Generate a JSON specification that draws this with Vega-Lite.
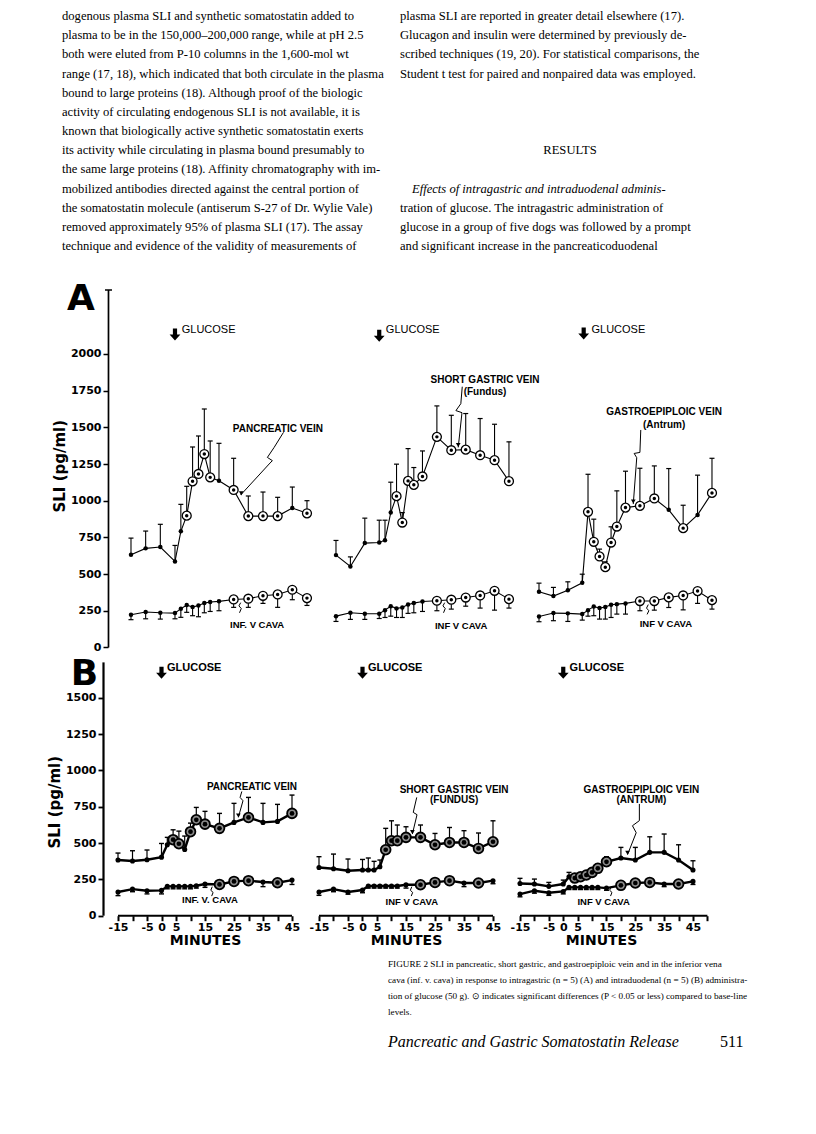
{
"$schema": "https://vega.github.io/schema/vega-lite/v6.json",
"padding": 0,
"background": "white",
"bounds": "flush",
"spacing": 15,
"config": {"view": {"stroke": null}, "text": {"color": "black"}},
"datasets": {
"A1": [
{"s":"vein","t":-15,"v":632,"e":745,"sig":0},{"s":"vein","t":-10,"v":675,"e":793,"sig":0},{"s":"vein","t":-5,"v":684,"e":839,"sig":0},{"s":"vein","t":0,"v":586,"e":695,"sig":0},{"s":"vein","t":2,"v":791,"e":975,"sig":0},{"s":"vein","t":4,"v":898,"e":1098,"sig":1},{"s":"vein","t":6,"v":1132,"e":1366,"sig":1},{"s":"vein","t":8,"v":1182,"e":1441,"sig":1},{"s":"vein","t":10,"v":1318,"e":1625,"sig":1},{"s":"vein","t":12,"v":1159,"e":1407,"sig":1},{"s":"vein","t":15,"v":1136,"e":1391,"sig":0},{"s":"vein","t":20,"v":1073,"e":1289,"sig":1},{"s":"vein","t":25,"v":895,"e":1032,"sig":1},{"s":"vein","t":30,"v":895,"e":1059,"sig":1},{"s":"vein","t":35,"v":895,"e":1023,"sig":1},{"s":"vein","t":40,"v":950,"e":1093,"sig":0},{"s":"vein","t":45,"v":914,"e":1000,"sig":1},
{"s":"ivc","t":-15,"v":223,"e":189,"sig":0},{"s":"ivc","t":-10,"v":241,"e":195,"sig":0},{"s":"ivc","t":-5,"v":236,"e":193,"sig":0},{"s":"ivc","t":0,"v":234,"e":195,"sig":0},{"s":"ivc","t":2,"v":264,"e":205,"sig":0},{"s":"ivc","t":4,"v":289,"e":239,"sig":0},{"s":"ivc","t":6,"v":275,"e":216,"sig":0},{"s":"ivc","t":8,"v":286,"e":209,"sig":0},{"s":"ivc","t":10,"v":302,"e":236,"sig":0},{"s":"ivc","t":12,"v":309,"e":245,"sig":0},{"s":"ivc","t":15,"v":314,"e":250,"sig":0},{"s":"ivc","t":20,"v":327,"e":273,"sig":1},{"s":"ivc","t":25,"v":332,"e":273,"sig":1},{"s":"ivc","t":30,"v":352,"e":300,"sig":1},{"s":"ivc","t":35,"v":361,"e":273,"sig":1},{"s":"ivc","t":40,"v":393,"e":325,"sig":1},{"s":"ivc","t":45,"v":336,"e":286,"sig":1}],
"A2": [
{"s":"vein","t":-15,"v":629,"e":729,"sig":0},{"s":"vein","t":-10,"v":552,"e":617,"sig":0},{"s":"vein","t":-5,"v":711,"e":881,"sig":0},{"s":"vein","t":0,"v":715,"e":867,"sig":0},{"s":"vein","t":2,"v":731,"e":867,"sig":0},{"s":"vein","t":4,"v":919,"e":1126,"sig":0},{"s":"vein","t":6,"v":1031,"e":1249,"sig":1},{"s":"vein","t":8,"v":851,"e":919,"sig":1},{"s":"vein","t":10,"v":1135,"e":1355,"sig":1},{"s":"vein","t":12,"v":1108,"e":1226,"sig":1},{"s":"vein","t":15,"v":1165,"e":1339,"sig":1},{"s":"vein","t":20,"v":1435,"e":1646,"sig":1},{"s":"vein","t":25,"v":1344,"e":1582,"sig":1},{"s":"vein","t":30,"v":1348,"e":1594,"sig":1},{"s":"vein","t":35,"v":1310,"e":1560,"sig":1},{"s":"vein","t":40,"v":1276,"e":1521,"sig":1},{"s":"vein","t":45,"v":1133,"e":1401,"sig":1},
{"s":"ivc","t":-15,"v":213,"e":177,"sig":0},{"s":"ivc","t":-10,"v":236,"e":191,"sig":0},{"s":"ivc","t":-5,"v":229,"e":191,"sig":0},{"s":"ivc","t":0,"v":229,"e":197,"sig":0},{"s":"ivc","t":2,"v":254,"e":204,"sig":0},{"s":"ivc","t":4,"v":281,"e":213,"sig":0},{"s":"ivc","t":6,"v":266,"e":204,"sig":0},{"s":"ivc","t":8,"v":272,"e":204,"sig":0},{"s":"ivc","t":10,"v":293,"e":232,"sig":0},{"s":"ivc","t":12,"v":302,"e":236,"sig":0},{"s":"ivc","t":15,"v":313,"e":245,"sig":0},{"s":"ivc","t":20,"v":318,"e":250,"sig":1},{"s":"ivc","t":25,"v":325,"e":261,"sig":1},{"s":"ivc","t":30,"v":340,"e":281,"sig":1},{"s":"ivc","t":35,"v":354,"e":268,"sig":1},{"s":"ivc","t":40,"v":386,"e":254,"sig":1},{"s":"ivc","t":45,"v":329,"e":268,"sig":1}],
"A3": [
{"s":"vein","t":-15,"v":379,"e":438,"sig":0},{"s":"vein","t":-10,"v":350,"e":409,"sig":0},{"s":"vein","t":-5,"v":390,"e":447,"sig":0},{"s":"vein","t":0,"v":440,"e":499,"sig":0},{"s":"vein","t":2,"v":924,"e":1180,"sig":1},{"s":"vein","t":4,"v":720,"e":874,"sig":1},{"s":"vein","t":6,"v":620,"e":670,"sig":1},{"s":"vein","t":8,"v":547,"e":583,"sig":1},{"s":"vein","t":10,"v":715,"e":822,"sig":1},{"s":"vein","t":12,"v":824,"e":1067,"sig":1},{"s":"vein","t":15,"v":953,"e":1201,"sig":1},{"s":"vein","t":20,"v":965,"e":1221,"sig":1},{"s":"vein","t":25,"v":1015,"e":1237,"sig":1},{"s":"vein","t":30,"v":938,"e":1219,"sig":0},{"s":"vein","t":35,"v":813,"e":969,"sig":1},{"s":"vein","t":40,"v":903,"e":1174,"sig":0},{"s":"vein","t":45,"v":1053,"e":1289,"sig":1},
{"s":"ivc","t":-15,"v":211,"e":175,"sig":0},{"s":"ivc","t":-10,"v":234,"e":182,"sig":0},{"s":"ivc","t":-5,"v":232,"e":177,"sig":0},{"s":"ivc","t":0,"v":227,"e":186,"sig":0},{"s":"ivc","t":2,"v":254,"e":213,"sig":0},{"s":"ivc","t":4,"v":279,"e":216,"sig":0},{"s":"ivc","t":6,"v":268,"e":193,"sig":0},{"s":"ivc","t":8,"v":275,"e":193,"sig":0},{"s":"ivc","t":10,"v":291,"e":204,"sig":0},{"s":"ivc","t":12,"v":295,"e":227,"sig":0},{"s":"ivc","t":15,"v":300,"e":227,"sig":0},{"s":"ivc","t":20,"v":316,"e":250,"sig":1},{"s":"ivc","t":25,"v":316,"e":254,"sig":1},{"s":"ivc","t":30,"v":341,"e":272,"sig":1},{"s":"ivc","t":35,"v":354,"e":256,"sig":1},{"s":"ivc","t":40,"v":384,"e":300,"sig":1},{"s":"ivc","t":45,"v":322,"e":261,"sig":1}],
"B1": [
{"s":"vein","t":-15,"v":383,"e":431,"sig":0},{"s":"vein","t":-10,"v":376,"e":447,"sig":0},{"s":"vein","t":-5,"v":385,"e":452,"sig":0},{"s":"vein","t":0,"v":403,"e":497,"sig":0},{"s":"vein","t":2,"v":488,"e":539,"sig":0},{"s":"vein","t":4,"v":523,"e":591,"sig":1},{"s":"vein","t":6,"v":495,"e":582,"sig":1},{"s":"vein","t":8,"v":456,"e":548,"sig":0},{"s":"vein","t":10,"v":578,"e":637,"sig":1},{"s":"vein","t":12,"v":660,"e":745,"sig":1},{"s":"vein","t":15,"v":630,"e":718,"sig":1},{"s":"vein","t":20,"v":601,"e":704,"sig":1},{"s":"vein","t":25,"v":642,"e":773,"sig":0},{"s":"vein","t":30,"v":676,"e":814,"sig":1},{"s":"vein","t":35,"v":642,"e":773,"sig":0},{"s":"vein","t":40,"v":649,"e":766,"sig":0},{"s":"vein","t":45,"v":704,"e":830,"sig":1},
{"s":"ivc","t":-15,"v":163,"e":138,"sig":0},{"s":"ivc","t":-10,"v":183,"e":165,"sig":0},{"s":"ivc","t":-5,"v":172,"e":150,"sig":0},{"s":"ivc","t":0,"v":174,"e":150,"sig":0},{"s":"ivc","t":2,"v":202,"e":185,"sig":0},{"s":"ivc","t":4,"v":202,"e":185,"sig":0},{"s":"ivc","t":6,"v":202,"e":185,"sig":0},{"s":"ivc","t":8,"v":202,"e":185,"sig":0},{"s":"ivc","t":10,"v":202,"e":185,"sig":0},{"s":"ivc","t":12,"v":206,"e":190,"sig":0},{"s":"ivc","t":15,"v":218,"e":195,"sig":0},{"s":"ivc","t":20,"v":215,"e":195,"sig":1},{"s":"ivc","t":25,"v":236,"e":215,"sig":1},{"s":"ivc","t":30,"v":241,"e":220,"sig":1},{"s":"ivc","t":35,"v":232,"e":200,"sig":0},{"s":"ivc","t":40,"v":227,"e":205,"sig":1},{"s":"ivc","t":45,"v":245,"e":215,"sig":0}],
"B2": [
{"s":"vein","t":-15,"v":332,"e":406,"sig":0},{"s":"vein","t":-10,"v":323,"e":424,"sig":0},{"s":"vein","t":-5,"v":309,"e":390,"sig":0},{"s":"vein","t":0,"v":314,"e":387,"sig":0},{"s":"vein","t":2,"v":314,"e":397,"sig":0},{"s":"vein","t":4,"v":314,"e":374,"sig":0},{"s":"vein","t":6,"v":337,"e":383,"sig":0},{"s":"vein","t":8,"v":454,"e":601,"sig":1},{"s":"vein","t":10,"v":516,"e":653,"sig":1},{"s":"vein","t":12,"v":516,"e":624,"sig":1},{"s":"vein","t":15,"v":539,"e":612,"sig":1},{"s":"vein","t":20,"v":539,"e":624,"sig":1},{"s":"vein","t":25,"v":488,"e":566,"sig":1},{"s":"vein","t":30,"v":504,"e":607,"sig":1},{"s":"vein","t":35,"v":504,"e":585,"sig":1},{"s":"vein","t":40,"v":463,"e":569,"sig":1},{"s":"vein","t":45,"v":509,"e":653,"sig":1},
{"s":"ivc","t":-15,"v":163,"e":140,"sig":0},{"s":"ivc","t":-10,"v":183,"e":165,"sig":0},{"s":"ivc","t":-5,"v":163,"e":148,"sig":0},{"s":"ivc","t":0,"v":177,"e":158,"sig":0},{"s":"ivc","t":2,"v":204,"e":190,"sig":0},{"s":"ivc","t":4,"v":204,"e":190,"sig":0},{"s":"ivc","t":6,"v":204,"e":190,"sig":0},{"s":"ivc","t":8,"v":204,"e":190,"sig":0},{"s":"ivc","t":10,"v":204,"e":190,"sig":0},{"s":"ivc","t":12,"v":204,"e":190,"sig":0},{"s":"ivc","t":15,"v":213,"e":190,"sig":0},{"s":"ivc","t":20,"v":213,"e":195,"sig":1},{"s":"ivc","t":25,"v":229,"e":215,"sig":1},{"s":"ivc","t":30,"v":241,"e":225,"sig":1},{"s":"ivc","t":35,"v":225,"e":200,"sig":0},{"s":"ivc","t":40,"v":225,"e":210,"sig":1},{"s":"ivc","t":45,"v":241,"e":220,"sig":0}],
"B3": [
{"s":"vein","t":-15,"v":222,"e":257,"sig":0},{"s":"vein","t":-10,"v":218,"e":252,"sig":0},{"s":"vein","t":-5,"v":202,"e":229,"sig":0},{"s":"vein","t":0,"v":218,"e":245,"sig":0},{"s":"vein","t":2,"v":268,"e":298,"sig":0},{"s":"vein","t":4,"v":259,"e":287,"sig":1},{"s":"vein","t":6,"v":268,"e":295,"sig":1},{"s":"vein","t":8,"v":280,"e":305,"sig":1},{"s":"vein","t":10,"v":298,"e":325,"sig":1},{"s":"vein","t":12,"v":326,"e":355,"sig":1},{"s":"vein","t":15,"v":371,"e":406,"sig":1},{"s":"vein","t":20,"v":397,"e":470,"sig":0},{"s":"vein","t":25,"v":383,"e":470,"sig":0},{"s":"vein","t":30,"v":436,"e":543,"sig":0},{"s":"vein","t":35,"v":436,"e":562,"sig":0},{"s":"vein","t":40,"v":383,"e":488,"sig":0},{"s":"vein","t":45,"v":314,"e":378,"sig":0},
{"s":"ivc","t":-15,"v":149,"e":130,"sig":0},{"s":"ivc","t":-10,"v":172,"e":155,"sig":0},{"s":"ivc","t":-5,"v":158,"e":140,"sig":0},{"s":"ivc","t":0,"v":167,"e":150,"sig":0},{"s":"ivc","t":2,"v":195,"e":180,"sig":0},{"s":"ivc","t":4,"v":195,"e":180,"sig":0},{"s":"ivc","t":6,"v":195,"e":180,"sig":0},{"s":"ivc","t":8,"v":195,"e":180,"sig":0},{"s":"ivc","t":10,"v":195,"e":180,"sig":0},{"s":"ivc","t":12,"v":195,"e":180,"sig":0},{"s":"ivc","t":15,"v":190,"e":175,"sig":0},{"s":"ivc","t":20,"v":209,"e":195,"sig":1},{"s":"ivc","t":25,"v":225,"e":210,"sig":1},{"s":"ivc","t":30,"v":229,"e":215,"sig":1},{"s":"ivc","t":35,"v":218,"e":200,"sig":0},{"s":"ivc","t":40,"v":218,"e":205,"sig":1},{"s":"ivc","t":45,"v":236,"e":215,"sig":0}],
"A1n": [
{"kind":"letter","txt":"A","t":-32.1,"v":2372},{"kind":"arrow","t":0,"v":2132},{"kind":"glucose","txt":"GLUCOSE","t":2.3,"v":2166},{"kind":"vein","txt":"PANCREATIC VEIN","t":35.1,"v":1490},{"kind":"ivc","txt":"INF. V CAVA","t":28,"v":155},
{"kind":"yaxis","t":-22.67,"v":0,"v2":2436},{"kind":"cap","t":-22.67,"v":2436},{"kind":"head","t":22.6,"v":1050},
{"kind":"leader","grp":"v","o":1,"t":37,"v":1466},{"kind":"leader","grp":"v","o":2,"t":33.8,"v":1363},{"kind":"leader","grp":"v","o":3,"t":31.5,"v":1295},{"kind":"leader","grp":"v","o":4,"t":33.2,"v":1273},{"kind":"leader","grp":"v","o":5,"t":32.1,"v":1250},{"kind":"leader","grp":"v","o":6,"t":22.4,"v":1039},
{"kind":"leader","grp":"i","o":1,"t":22.0,"v":236},{"kind":"leader","grp":"i","o":2,"t":22.6,"v":265},{"kind":"leader","grp":"i","o":3,"t":21.8,"v":283},{"kind":"leader","grp":"i","o":4,"t":22.4,"v":305}],
"A2n": [
{"kind":"arrow","t":0,"v":2125},{"kind":"glucose","txt":"GLUCOSE","t":2.3,"v":2166},{"kind":"vein","txt":"SHORT GASTRIC VEIN","t":36.7,"v":1824},{"kind":"vein","txt":"(Fundus)","t":36.7,"v":1742},{"kind":"ivc","txt":"INF V CAVA","t":28.4,"v":148},{"kind":"head","t":27.4,"v":1380},
{"kind":"leader","grp":"v","o":1,"t":28.8,"v":1777},{"kind":"leader","grp":"v","o":2,"t":28.3,"v":1661},{"kind":"leader","grp":"v","o":3,"t":26.6,"v":1614},{"kind":"leader","grp":"v","o":4,"t":28.7,"v":1600},{"kind":"leader","grp":"v","o":5,"t":27.4,"v":1363},
{"kind":"leader","grp":"i","o":1,"t":22.3,"v":236},{"kind":"leader","grp":"i","o":2,"t":22.9,"v":265},{"kind":"leader","grp":"i","o":3,"t":22.1,"v":283},{"kind":"leader","grp":"i","o":4,"t":22.7,"v":305}],
"A3n": [
{"kind":"arrow","t":0.5,"v":2139},{"kind":"glucose","txt":"GLUCOSE","t":3.2,"v":2166},{"kind":"vein","txt":"GASTROEPIPLOIC VEIN","t":28.4,"v":1606},{"kind":"vein","txt":"(Antrum)","t":28.4,"v":1517},{"kind":"ivc","txt":"INF V CAVA","t":29,"v":161},{"kind":"head","t":17.7,"v":995},
{"kind":"leader","grp":"v","o":1,"t":20.3,"v":1482},{"kind":"leader","grp":"v","o":2,"t":20,"v":1329},{"kind":"leader","grp":"v","o":3,"t":18,"v":1322},{"kind":"leader","grp":"v","o":4,"t":18.9,"v":1293},{"kind":"leader","grp":"v","o":5,"t":17.7,"v":977},
{"kind":"leader","grp":"i","o":1,"t":22.5,"v":225},{"kind":"leader","grp":"i","o":2,"t":23.1,"v":250},{"kind":"leader","grp":"i","o":3,"t":22.3,"v":268},{"kind":"leader","grp":"i","o":4,"t":22.9,"v":292}],
"B1n": [
{"kind":"letter","txt":"B","t":-26.6,"v":1661},{"kind":"arrow","t":0,"v":1672},{"kind":"glucose","txt":"GLUCOSE","t":1.9,"v":1707},{"kind":"vein","txt":"PANCREATIC VEIN","t":31.2,"v":887},{"kind":"ivc","txt":"INF. V. CAVA","t":16.7,"v":110},{"kind":"head","t":26.5,"v":690},
{"kind":"yaxis","t":-20,"v":0,"v2":1743},{"kind":"xaxis","t":-15,"t2":45,"v":0},
{"kind":"leader","grp":"v","o":1,"t":27.7,"v":855},{"kind":"leader","grp":"v","o":2,"t":27.1,"v":814},{"kind":"leader","grp":"v","o":3,"t":28.1,"v":791},{"kind":"leader","grp":"v","o":4,"t":26.5,"v":677},
{"kind":"leader","grp":"i","o":1,"t":17.3,"v":135},{"kind":"leader","grp":"i","o":2,"t":17.8,"v":160},{"kind":"leader","grp":"i","o":3,"t":17.0,"v":175},{"kind":"leader","grp":"i","o":4,"t":17.5,"v":200}],
"B2n": [
{"kind":"arrow","t":0,"v":1672},{"kind":"glucose","txt":"GLUCOSE","t":1.9,"v":1707},{"kind":"vein","txt":"SHORT GASTRIC VEIN","t":31.6,"v":867},{"kind":"vein","txt":"(FUNDUS)","t":31.6,"v":798},{"kind":"ivc","txt":"INF V CAVA","t":17,"v":96},{"kind":"head","t":17.2,"v":575},
{"kind":"xaxis","t":-15,"t2":45,"v":0},
{"kind":"leader","grp":"v","o":1,"t":18.7,"v":814},{"kind":"leader","grp":"v","o":2,"t":17.5,"v":711},{"kind":"leader","grp":"v","o":3,"t":18.8,"v":695},{"kind":"leader","grp":"v","o":4,"t":17.2,"v":562},
{"kind":"leader","grp":"i","o":1,"t":16.8,"v":135},{"kind":"leader","grp":"i","o":2,"t":17.3,"v":160},{"kind":"leader","grp":"i","o":3,"t":16.5,"v":175},{"kind":"leader","grp":"i","o":4,"t":17.0,"v":200}],
"B3n": [
{"kind":"arrow","t":0,"v":1672},{"kind":"glucose","txt":"GLUCOSE","t":2.2,"v":1707},{"kind":"vein","txt":"GASTROEPIPLOIC VEIN","t":27.1,"v":867},{"kind":"vein","txt":"(ANTRUM)","t":27.1,"v":798},{"kind":"ivc","txt":"INF V CAVA","t":14,"v":96},{"kind":"head","t":22.3,"v":433},
{"kind":"xaxis","t":-15,"t2":50,"v":0},
{"kind":"leader","grp":"v","o":1,"t":26.4,"v":769},{"kind":"leader","grp":"v","o":2,"t":26.4,"v":654},{"kind":"leader","grp":"v","o":3,"t":24,"v":619},{"kind":"leader","grp":"v","o":4,"t":25.3,"v":571},{"kind":"leader","grp":"v","o":5,"t":22.3,"v":420},
{"kind":"leader","grp":"i","o":1,"t":16.4,"v":135},{"kind":"leader","grp":"i","o":2,"t":16.9,"v":160},{"kind":"leader","grp":"i","o":3,"t":16.1,"v":175},{"kind":"leader","grp":"i","o":4,"t":16.6,"v":200}]
},
"vconcat": [
{
"width": 816, "height": 274.3,
"data": {"values": [
{"col":"L","line":0,"role":"body","txt":"dogenous plasma SLI and synthetic somatostatin added to"},
{"col":"L","line":1,"role":"body","txt":"plasma to be in the 150,000–200,000 range, while at pH 2.5"},
{"col":"L","line":2,"role":"body","txt":"both were eluted from P-10 columns in the 1,600-mol wt"},
{"col":"L","line":3,"role":"body","txt":"range (17, 18), which indicated that both circulate in the plasma"},
{"col":"L","line":4,"role":"body","txt":"bound to large proteins (18). Although proof of the biologic"},
{"col":"L","line":5,"role":"body","txt":"activity of circulating endogenous SLI is not available, it is"},
{"col":"L","line":6,"role":"body","txt":"known that biologically active synthetic somatostatin exerts"},
{"col":"L","line":7,"role":"body","txt":"its activity while circulating in plasma bound presumably to"},
{"col":"L","line":8,"role":"body","txt":"the same large proteins (18). Affinity chromatography with im-"},
{"col":"L","line":9,"role":"body","txt":"mobilized antibodies directed against the central portion of"},
{"col":"L","line":10,"role":"body","txt":"the somatostatin molecule (antiserum S-27 of Dr. Wylie Vale)"},
{"col":"L","line":11,"role":"body","txt":"removed approximately 95% of plasma SLI (17). The assay"},
{"col":"L","line":12,"role":"body","txt":"technique and evidence of the validity of measurements of"},
{"col":"R","line":0,"role":"body","txt":"plasma SLI are reported in greater detail elsewhere (17)."},
{"col":"R","line":1,"role":"body","txt":"Glucagon and insulin were determined by previously de-"},
{"col":"R","line":2,"role":"body","txt":"scribed techniques (19, 20). For statistical comparisons, the"},
{"col":"R","line":3,"role":"body","txt":"Student t test for paired and nonpaired data was employed."},
{"col":"R","line":7,"role":"heading","txt":"RESULTS"},
{"col":"R","line":9,"role":"runin","txt":"Effects of intragastric and intraduodenal adminis-"},
{"col":"R","line":10,"role":"body","txt":"tration of glucose. The intragastric administration of"},
{"col":"R","line":11,"role":"body","txt":"glucose in a group of five dogs was followed by a prompt"},
{"col":"R","line":12,"role":"body","txt":"and significant increase in the pancreaticoduodenal"}
]},
"encoding": {
"x": {"field":"col","type":"nominal","scale":{"type":"point","domain":["L","R"],"range":[62,400],"padding":0},"axis":null},
"y": {"field":"line","type":"quantitative","scale":{"domain":[-0.835,13.476],"reverse":true,"nice":false,"zero":false},"axis":null},
"text": {"field":"txt"}
},
"layer": [
{"transform":[{"filter":"datum.role == 'body'"}],"mark":{"type":"text","align":"left","baseline":"middle","font":"Liberation Serif","fontSize":12.6,"color":"black"}},
{"transform":[{"filter":"datum.role == 'heading'"}],"mark":{"type":"text","align":"center","baseline":"middle","dx":170,"font":"Liberation Serif","fontSize":12.6,"color":"black"}},
{"transform":[{"filter":"datum.role == 'runin'"}],"mark":{"type":"text","align":"left","baseline":"middle","dx":12,"font":"Liberation Serif","fontStyle":"italic","fontSize":12.6,"color":"black"}}
]
},
{
"width": 816, "height": 625.7,
"resolve": {"scale": {"x": "independent", "y": "independent"}},
"layer": [
{
"data":{"name":"A1"},
"encoding":{
"x":{"field":"t","type":"quantitative","scale":{"domain":[-59.66,218.55],"nice":false,"zero":false},"axis":null},
"y":{"field":"v","type":"quantitative","scale":{"domain":[-1828.6,2436],"nice":false,"zero":false},"axis":{"orient":"left","offset":-108,"values":[0,250,500,750,1000,1250,1500,1750,2000],"format":"d","domain":false,"title":"SLI (pg/ml)","titleY":175.7,"titleFont":"DejaVu Sans","titleFontWeight":"bold","titleFontSize":15,"titlePadding":3,"titleColor":"black","labelFont":"DejaVu Sans","labelFontWeight":"bold","labelFontSize":11,"labelColor":"black","labelPadding":2,"tickSize":5,"tickWidth":1.5,"tickColor":"black","grid":false}}
},
"layer":[
{"mark":{"type":"rule","color":"black","strokeWidth":1.1},"encoding":{"y2":{"field":"e"}}},
{"mark":{"type":"tick","orient":"horizontal","size":5,"thickness":1.2,"color":"black","opacity":1},"encoding":{"y":{"field":"e","type":"quantitative"}}},
{"mark":{"type":"line","color":"black","strokeWidth":1.1},"encoding":{"detail":{"field":"s"}}},
{"transform":[{"filter":"datum.sig == 1"}],"mark":{"type":"point","shape":"circle","filled":true,"fill":"white","stroke":"black","strokeWidth":1.3,"size":80,"opacity":1}},
{"mark":{"type":"point","shape":"circle","filled":true,"color":"black","opacity":1},"encoding":{"size":{"condition":{"test":"datum.sig == 1","value":12},"value":20}}},
{"data":{"name":"A1n"},"transform":[{"filter":"datum.kind == 'leader'"}],"mark":{"type":"line","color":"black","strokeWidth":1},"encoding":{"order":{"field":"o"},"detail":{"field":"grp"}}},
{"data":{"name":"A1n"},"transform":[{"filter":"datum.kind == 'head'"}],"mark":{"type":"point","shape":"triangle-down","filled":true,"color":"black","size":22,"opacity":1}},
{"data":{"name":"A1n"},"transform":[{"filter":"datum.kind == 'yaxis'"}],"mark":{"type":"rule","color":"black","strokeWidth":1.7},"encoding":{"y2":{"field":"v2"}}},
{"data":{"name":"A1n"},"transform":[{"filter":"datum.kind == 'cap'"}],"mark":{"type":"tick","orient":"horizontal","size":7,"thickness":1.5,"color":"black","opacity":1}},
{"data":{"name":"A1n"},"transform":[{"filter":"datum.kind == 'arrow'"}],"mark":{"type":"point","shape":"M-0.35,-1L0.35,-1L0.35,0L0.9,0L0,1L-0.9,0L-0.35,0Z","filled":true,"color":"black","size":144,"opacity":1}},
{"data":{"name":"A1n"},"transform":[{"filter":"datum.kind == 'letter'"}],"mark":{"type":"text","align":"center","baseline":"middle","font":"DejaVu Sans","fontWeight":"bold","fontSize":36},"encoding":{"text":{"field":"txt"}}},
{"data":{"name":"A1n"},"transform":[{"filter":"datum.kind == 'glucose'"}],"mark":{"type":"text","align":"left","baseline":"middle","font":"Liberation Sans","fontSize":11},"encoding":{"text":{"field":"txt"}}},
{"data":{"name":"A1n"},"transform":[{"filter":"datum.kind == 'vein'"}],"mark":{"type":"text","align":"center","baseline":"middle","font":"Liberation Sans Narrow, Liberation Sans","fontWeight":"bold","fontSize":10},"encoding":{"text":{"field":"txt"}}},
{"data":{"name":"A1n"},"transform":[{"filter":"datum.kind == 'ivc'"}],"mark":{"type":"text","align":"center","baseline":"middle","font":"Liberation Sans Narrow, Liberation Sans","fontWeight":"bold","fontSize":9.5},"encoding":{"text":{"field":"txt"}}}
]
},
{
"data":{"name":"A2"},
"encoding":{
"x":{"field":"t","type":"quantitative","scale":{"domain":[-131.54,151.5],"nice":false,"zero":false},"axis":null},
"y":{"field":"v","type":"quantitative","scale":{"domain":[-1828.6,2436],"nice":false,"zero":false},"axis":null}
},
"layer":[
{"mark":{"type":"rule","color":"black","strokeWidth":1.1},"encoding":{"y2":{"field":"e"}}},
{"mark":{"type":"tick","orient":"horizontal","size":5,"thickness":1.2,"color":"black","opacity":1},"encoding":{"y":{"field":"e","type":"quantitative","axis":null}}},
{"mark":{"type":"line","color":"black","strokeWidth":1.1},"encoding":{"detail":{"field":"s"}}},
{"transform":[{"filter":"datum.sig == 1"}],"mark":{"type":"point","shape":"circle","filled":true,"fill":"white","stroke":"black","strokeWidth":1.3,"size":80,"opacity":1}},
{"mark":{"type":"point","shape":"circle","filled":true,"color":"black","opacity":1},"encoding":{"size":{"condition":{"test":"datum.sig == 1","value":12},"value":20}}},
{"data":{"name":"A2n"},"transform":[{"filter":"datum.kind == 'leader'"}],"mark":{"type":"line","color":"black","strokeWidth":1},"encoding":{"order":{"field":"o"},"detail":{"field":"grp"}}},
{"data":{"name":"A2n"},"transform":[{"filter":"datum.kind == 'head'"}],"mark":{"type":"point","shape":"triangle-down","filled":true,"color":"black","size":22,"opacity":1}},
{"data":{"name":"A2n"},"transform":[{"filter":"datum.kind == 'arrow'"}],"mark":{"type":"point","shape":"M-0.35,-1L0.35,-1L0.35,0L0.9,0L0,1L-0.9,0L-0.35,0Z","filled":true,"color":"black","size":144,"opacity":1}},
{"data":{"name":"A2n"},"transform":[{"filter":"datum.kind == 'glucose'"}],"mark":{"type":"text","align":"left","baseline":"middle","font":"Liberation Sans","fontSize":11},"encoding":{"text":{"field":"txt"}}},
{"data":{"name":"A2n"},"transform":[{"filter":"datum.kind == 'vein'"}],"mark":{"type":"text","align":"center","baseline":"middle","font":"Liberation Sans Narrow, Liberation Sans","fontWeight":"bold","fontSize":10},"encoding":{"text":{"field":"txt"}}},
{"data":{"name":"A2n"},"transform":[{"filter":"datum.kind == 'ivc'"}],"mark":{"type":"text","align":"center","baseline":"middle","font":"Liberation Sans Narrow, Liberation Sans","fontWeight":"bold","fontSize":9.5},"encoding":{"text":{"field":"txt"}}}
]
},
{
"data":{"name":"A3"},
"encoding":{
"x":{"field":"t","type":"quantitative","scale":{"domain":[-201.96,81.08],"nice":false,"zero":false},"axis":null},
"y":{"field":"v","type":"quantitative","scale":{"domain":[-1828.6,2436],"nice":false,"zero":false},"axis":null}
},
"layer":[
{"mark":{"type":"rule","color":"black","strokeWidth":1.1},"encoding":{"y2":{"field":"e"}}},
{"mark":{"type":"tick","orient":"horizontal","size":5,"thickness":1.2,"color":"black","opacity":1},"encoding":{"y":{"field":"e","type":"quantitative","axis":null}}},
{"mark":{"type":"line","color":"black","strokeWidth":1.1},"encoding":{"detail":{"field":"s"}}},
{"transform":[{"filter":"datum.sig == 1"}],"mark":{"type":"point","shape":"circle","filled":true,"fill":"white","stroke":"black","strokeWidth":1.3,"size":80,"opacity":1}},
{"mark":{"type":"point","shape":"circle","filled":true,"color":"black","opacity":1},"encoding":{"size":{"condition":{"test":"datum.sig == 1","value":12},"value":20}}},
{"data":{"name":"A3n"},"transform":[{"filter":"datum.kind == 'leader'"}],"mark":{"type":"line","color":"black","strokeWidth":1},"encoding":{"order":{"field":"o"},"detail":{"field":"grp"}}},
{"data":{"name":"A3n"},"transform":[{"filter":"datum.kind == 'head'"}],"mark":{"type":"point","shape":"triangle-down","filled":true,"color":"black","size":22,"opacity":1}},
{"data":{"name":"A3n"},"transform":[{"filter":"datum.kind == 'arrow'"}],"mark":{"type":"point","shape":"M-0.35,-1L0.35,-1L0.35,0L0.9,0L0,1L-0.9,0L-0.35,0Z","filled":true,"color":"black","size":144,"opacity":1}},
{"data":{"name":"A3n"},"transform":[{"filter":"datum.kind == 'glucose'"}],"mark":{"type":"text","align":"left","baseline":"middle","font":"Liberation Sans","fontSize":11},"encoding":{"text":{"field":"txt"}}},
{"data":{"name":"A3n"},"transform":[{"filter":"datum.kind == 'vein'"}],"mark":{"type":"text","align":"center","baseline":"middle","font":"Liberation Sans Narrow, Liberation Sans","fontWeight":"bold","fontSize":10},"encoding":{"text":{"field":"txt"}}},
{"data":{"name":"A3n"},"transform":[{"filter":"datum.kind == 'ivc'"}],"mark":{"type":"text","align":"center","baseline":"middle","font":"Liberation Sans Narrow, Liberation Sans","fontWeight":"bold","fontSize":9.5},"encoding":{"text":{"field":"txt"}}}
]
},
{
"data":{"name":"B1"},
"encoding":{
"x":{"field":"t","type":"quantitative","scale":{"domain":[-55.69,225.69],"nice":false,"zero":false},"axis":{"orient":"bottom","values":[-15,-10,-5,0,5,10,15,20,25,30,35,40,45],"labelExpr":"(datum.value==-10||datum.value==10||datum.value==20||datum.value==30||datum.value==40) ? '' : toString(datum.value)","domain":false,"title":"MINUTES","titleX":205,"titleFont":"DejaVu Sans","titleFontWeight":"bold","titleFontSize":14,"titlePadding":1,"titleColor":"black","labelFont":"DejaVu Sans","labelFontWeight":"bold","labelFontSize":11,"labelColor":"black","labelPadding":1,"labelFlush":false,"labelOverlap":false,"tickSize":5,"tickWidth":2,"tickColor":"black","grid":false}},
"y":{"field":"v","type":"quantitative","scale":{"domain":[0,4305.4],"nice":false,"zero":false},"axis":{"orient":"left","offset":-103,"values":[0,250,500,750,1000,1250,1500],"format":"d","domain":false,"title":"SLI (pg/ml)","titleY":511.7,"titleFont":"DejaVu Sans","titleFontWeight":"bold","titleFontSize":15,"titlePadding":3,"titleColor":"black","labelFont":"DejaVu Sans","labelFontWeight":"bold","labelFontSize":11,"labelColor":"black","labelPadding":2,"tickSize":5,"tickWidth":1.8,"tickColor":"black","grid":false}}
},
"layer":[
{"mark":{"type":"rule","color":"black","strokeWidth":1.2},"encoding":{"y2":{"field":"e"}}},
{"mark":{"type":"tick","orient":"horizontal","size":5,"thickness":1.4,"color":"black","opacity":1},"encoding":{"y":{"field":"e","type":"quantitative"}}},
{"mark":{"type":"line","color":"black","strokeWidth":2.4},"encoding":{"detail":{"field":"s"}}},
{"transform":[{"filter":"datum.sig == 1"}],"mark":{"type":"point","shape":"circle","filled":true,"fill":"#8c8c8c","stroke":"black","strokeWidth":1.8,"size":95,"opacity":1}},
{"mark":{"type":"point","shape":"circle","filled":true,"color":"black","opacity":1},"encoding":{"size":{"condition":{"test":"datum.sig == 1","value":22},"value":26}}},
{"data":{"name":"B1n"},"transform":[{"filter":"datum.kind == 'leader'"}],"mark":{"type":"line","color":"black","strokeWidth":1},"encoding":{"order":{"field":"o"},"detail":{"field":"grp"}}},
{"data":{"name":"B1n"},"transform":[{"filter":"datum.kind == 'head'"}],"mark":{"type":"point","shape":"triangle-down","filled":true,"color":"black","size":22,"opacity":1}},
{"data":{"name":"B1n"},"transform":[{"filter":"datum.kind == 'yaxis'"}],"mark":{"type":"rule","color":"black","strokeWidth":2.2},"encoding":{"y2":{"field":"v2"}}},
{"data":{"name":"B1n"},"transform":[{"filter":"datum.kind == 'xaxis'"}],"mark":{"type":"rule","color":"black","strokeWidth":2},"encoding":{"x2":{"field":"t2"}}},
{"data":{"name":"B1n"},"transform":[{"filter":"datum.kind == 'arrow'"}],"mark":{"type":"point","shape":"M-0.35,-1L0.35,-1L0.35,0L0.9,0L0,1L-0.9,0L-0.35,0Z","filled":true,"color":"black","size":144,"opacity":1}},
{"data":{"name":"B1n"},"transform":[{"filter":"datum.kind == 'letter'"}],"mark":{"type":"text","align":"center","baseline":"middle","font":"DejaVu Sans","fontWeight":"bold","fontSize":36},"encoding":{"text":{"field":"txt"}}},
{"data":{"name":"B1n"},"transform":[{"filter":"datum.kind == 'glucose'"}],"mark":{"type":"text","align":"left","baseline":"middle","font":"Liberation Sans","fontWeight":"bold","fontSize":11},"encoding":{"text":{"field":"txt"}}},
{"data":{"name":"B1n"},"transform":[{"filter":"datum.kind == 'vein'"}],"mark":{"type":"text","align":"center","baseline":"middle","font":"Liberation Sans Narrow, Liberation Sans","fontWeight":"bold","fontSize":10},"encoding":{"text":{"field":"txt"}}},
{"data":{"name":"B1n"},"transform":[{"filter":"datum.kind == 'ivc'"}],"mark":{"type":"text","align":"center","baseline":"middle","font":"Liberation Sans Narrow, Liberation Sans","fontWeight":"bold","fontSize":9.5},"encoding":{"text":{"field":"txt"}}}
]
},
{
"data":{"name":"B2"},
"encoding":{
"x":{"field":"t","type":"quantitative","scale":{"domain":[-125,156.38],"nice":false,"zero":false},"axis":{"orient":"bottom","values":[-15,-10,-5,0,5,10,15,20,25,30,35,40,45],"labelExpr":"(datum.value==-10||datum.value==10||datum.value==20||datum.value==30||datum.value==40) ? '' : toString(datum.value)","domain":false,"title":"MINUTES","titleX":406,"titleFont":"DejaVu Sans","titleFontWeight":"bold","titleFontSize":14,"titlePadding":1,"titleColor":"black","labelFont":"DejaVu Sans","labelFontWeight":"bold","labelFontSize":11,"labelColor":"black","labelPadding":1,"labelFlush":false,"labelOverlap":false,"tickSize":5,"tickWidth":2,"tickColor":"black","grid":false}},
"y":{"field":"v","type":"quantitative","scale":{"domain":[0,4305.4],"nice":false,"zero":false},"axis":null}
},
"layer":[
{"mark":{"type":"rule","color":"black","strokeWidth":1.2},"encoding":{"y2":{"field":"e"}}},
{"mark":{"type":"tick","orient":"horizontal","size":5,"thickness":1.4,"color":"black","opacity":1},"encoding":{"y":{"field":"e","type":"quantitative","axis":null}}},
{"mark":{"type":"line","color":"black","strokeWidth":2.4},"encoding":{"detail":{"field":"s"}}},
{"transform":[{"filter":"datum.sig == 1"}],"mark":{"type":"point","shape":"circle","filled":true,"fill":"#8c8c8c","stroke":"black","strokeWidth":1.8,"size":95,"opacity":1}},
{"mark":{"type":"point","shape":"circle","filled":true,"color":"black","opacity":1},"encoding":{"size":{"condition":{"test":"datum.sig == 1","value":22},"value":26}}},
{"data":{"name":"B2n"},"transform":[{"filter":"datum.kind == 'leader'"}],"mark":{"type":"line","color":"black","strokeWidth":1},"encoding":{"order":{"field":"o"},"detail":{"field":"grp"}}},
{"data":{"name":"B2n"},"transform":[{"filter":"datum.kind == 'head'"}],"mark":{"type":"point","shape":"triangle-down","filled":true,"color":"black","size":22,"opacity":1}},
{"data":{"name":"B2n"},"transform":[{"filter":"datum.kind == 'xaxis'"}],"mark":{"type":"rule","color":"black","strokeWidth":2},"encoding":{"x2":{"field":"t2"}}},
{"data":{"name":"B2n"},"transform":[{"filter":"datum.kind == 'arrow'"}],"mark":{"type":"point","shape":"M-0.35,-1L0.35,-1L0.35,0L0.9,0L0,1L-0.9,0L-0.35,0Z","filled":true,"color":"black","size":144,"opacity":1}},
{"data":{"name":"B2n"},"transform":[{"filter":"datum.kind == 'glucose'"}],"mark":{"type":"text","align":"left","baseline":"middle","font":"Liberation Sans","fontWeight":"bold","fontSize":11},"encoding":{"text":{"field":"txt"}}},
{"data":{"name":"B2n"},"transform":[{"filter":"datum.kind == 'vein'"}],"mark":{"type":"text","align":"center","baseline":"middle","font":"Liberation Sans Narrow, Liberation Sans","fontWeight":"bold","fontSize":10},"encoding":{"text":{"field":"txt"}}},
{"data":{"name":"B2n"},"transform":[{"filter":"datum.kind == 'ivc'"}],"mark":{"type":"text","align":"center","baseline":"middle","font":"Liberation Sans Narrow, Liberation Sans","fontWeight":"bold","fontSize":9.5},"encoding":{"text":{"field":"txt"}}}
]
},
{
"data":{"name":"B3"},
"encoding":{
"x":{"field":"t","type":"quantitative","scale":{"domain":[-195.37,87.67],"nice":false,"zero":false},"axis":{"orient":"bottom","values":[-15,-10,-5,0,5,10,15,20,25,30,35,40,45,50],"labelExpr":"(datum.value==-10||datum.value==10||datum.value==20||datum.value==30||datum.value==40||datum.value==50) ? '' : toString(datum.value)","domain":false,"title":"MINUTES","titleX":601,"titleFont":"DejaVu Sans","titleFontWeight":"bold","titleFontSize":14,"titlePadding":1,"titleColor":"black","labelFont":"DejaVu Sans","labelFontWeight":"bold","labelFontSize":11,"labelColor":"black","labelPadding":1,"labelFlush":false,"labelOverlap":false,"tickSize":5,"tickWidth":2,"tickColor":"black","grid":false}},
"y":{"field":"v","type":"quantitative","scale":{"domain":[0,4305.4],"nice":false,"zero":false},"axis":null}
},
"layer":[
{"mark":{"type":"rule","color":"black","strokeWidth":1.2},"encoding":{"y2":{"field":"e"}}},
{"mark":{"type":"tick","orient":"horizontal","size":5,"thickness":1.4,"color":"black","opacity":1},"encoding":{"y":{"field":"e","type":"quantitative","axis":null}}},
{"mark":{"type":"line","color":"black","strokeWidth":2.4},"encoding":{"detail":{"field":"s"}}},
{"transform":[{"filter":"datum.sig == 1"}],"mark":{"type":"point","shape":"circle","filled":true,"fill":"#8c8c8c","stroke":"black","strokeWidth":1.8,"size":95,"opacity":1}},
{"mark":{"type":"point","shape":"circle","filled":true,"color":"black","opacity":1},"encoding":{"size":{"condition":{"test":"datum.sig == 1","value":22},"value":26}}},
{"data":{"name":"B3n"},"transform":[{"filter":"datum.kind == 'leader'"}],"mark":{"type":"line","color":"black","strokeWidth":1},"encoding":{"order":{"field":"o"},"detail":{"field":"grp"}}},
{"data":{"name":"B3n"},"transform":[{"filter":"datum.kind == 'head'"}],"mark":{"type":"point","shape":"triangle-down","filled":true,"color":"black","size":22,"opacity":1}},
{"data":{"name":"B3n"},"transform":[{"filter":"datum.kind == 'xaxis'"}],"mark":{"type":"rule","color":"black","strokeWidth":2},"encoding":{"x2":{"field":"t2"}}},
{"data":{"name":"B3n"},"transform":[{"filter":"datum.kind == 'arrow'"}],"mark":{"type":"point","shape":"M-0.35,-1L0.35,-1L0.35,0L0.9,0L0,1L-0.9,0L-0.35,0Z","filled":true,"color":"black","size":144,"opacity":1}},
{"data":{"name":"B3n"},"transform":[{"filter":"datum.kind == 'glucose'"}],"mark":{"type":"text","align":"left","baseline":"middle","font":"Liberation Sans","fontWeight":"bold","fontSize":11},"encoding":{"text":{"field":"txt"}}},
{"data":{"name":"B3n"},"transform":[{"filter":"datum.kind == 'vein'"}],"mark":{"type":"text","align":"center","baseline":"middle","font":"Liberation Sans Narrow, Liberation Sans","fontWeight":"bold","fontSize":10},"encoding":{"text":{"field":"txt"}}},
{"data":{"name":"B3n"},"transform":[{"filter":"datum.kind == 'ivc'"}],"mark":{"type":"text","align":"center","baseline":"middle","font":"Liberation Sans Narrow, Liberation Sans","fontWeight":"bold","fontSize":9.5},"encoding":{"text":{"field":"txt"}}}
]
}
]
},
{
"width": 816, "height": 204,
"data": {"values": [
{"col":"F","line":0,"role":"caption","txt":"FIGURE 2  SLI in pancreatic, short gastric, and gastroepiploic vein and in the inferior vena"},
{"col":"F","line":1,"role":"caption","txt":"cava (inf. v. cava) in response to intragastric (n = 5) (A) and intraduodenal (n = 5) (B) administra-"},
{"col":"F","line":2,"role":"caption","txt":"tion of glucose (50 g). ⊙ indicates significant differences (P < 0.05 or less) compared to base-line"},
{"col":"F","line":3,"role":"caption","txt":"levels."},
{"col":"F","line":5,"role":"runninghead","txt":"Pancreatic and Gastric Somatostatin Release"},
{"col":"P","line":5,"role":"folio","txt":"511"}
]},
"encoding": {
"x": {"field":"col","type":"nominal","scale":{"type":"point","domain":["F","P"],"range":[388,720],"padding":0},"axis":null},
"y": {"field":"line","type":"quantitative","scale":{"domain":[-2.0625,10.6875],"reverse":true,"nice":false,"zero":false},"axis":null},
"text": {"field":"txt"}
},
"layer": [
{"transform":[{"filter":"datum.role == 'caption'"}],"mark":{"type":"text","align":"left","baseline":"middle","font":"Liberation Serif","fontSize":9.2,"color":"black"}},
{"transform":[{"filter":"datum.role == 'runninghead'"}],"mark":{"type":"text","align":"left","baseline":"middle","dy":-2,"font":"Liberation Serif","fontStyle":"italic","fontSize":16,"color":"black"}},
{"transform":[{"filter":"datum.role == 'folio'"}],"mark":{"type":"text","align":"left","baseline":"middle","dy":-2,"font":"Liberation Serif","fontSize":16,"color":"black"}}
]
}
]
}
